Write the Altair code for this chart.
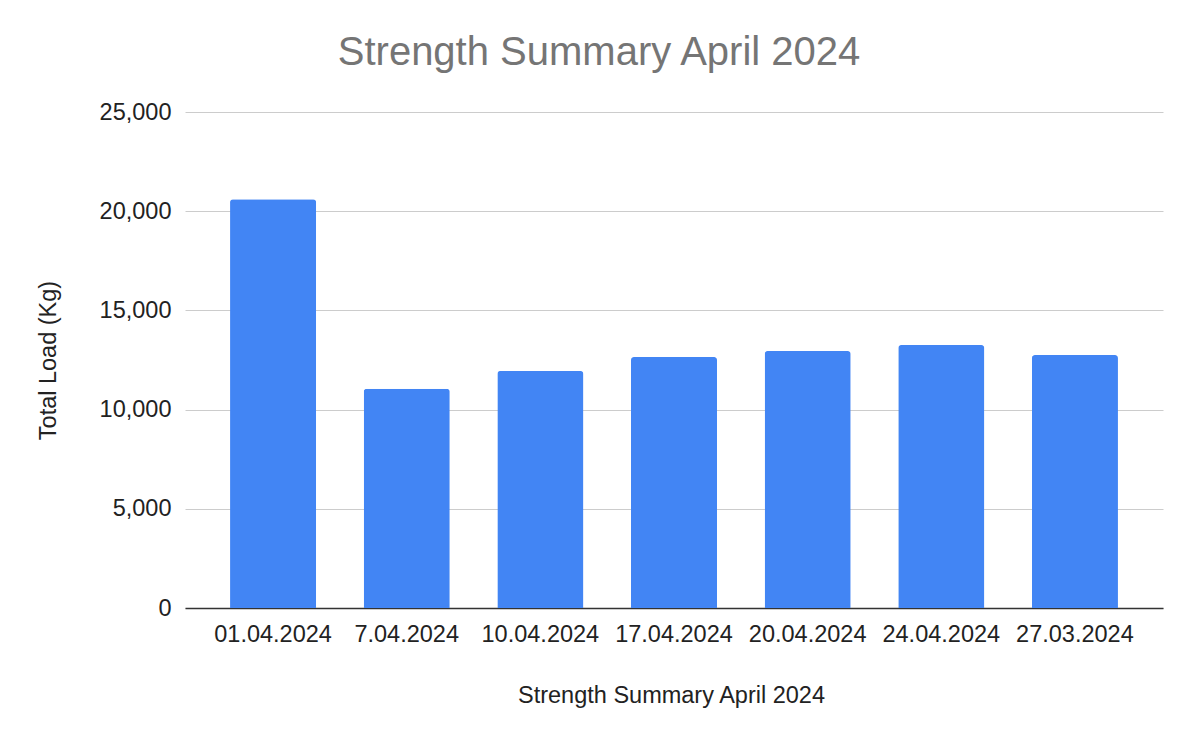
import altair as alt
import pandas as pd

dates = ["01.04.2024", "7.04.2024", "10.04.2024", "17.04.2024", "20.04.2024", "24.04.2024", "27.03.2024"]
loads = [20600, 11050, 11950, 12650, 12950, 13250, 12750]

df = pd.DataFrame({"date": dates, "load": loads})

FONT = "Liberation Sans"

chart = (
    alt.Chart(df)
    .mark_bar(color="#4285F4", cornerRadiusTopLeft=3, cornerRadiusTopRight=3)
    .encode(
        x=alt.X(
            "date:N",
            sort=dates,
            scale=alt.Scale(paddingInner=0.356, paddingOuter=0.337),
            axis=alt.Axis(
                title="Strength Summary April 2024",
                labelAngle=0,
                labelFontSize=23.5,
                labelFont=FONT,
                labelColor="#222222",
                labelPadding=14,
                ticks=False,
                grid=False,
                domain=True,
                domainColor="#333333",
                domainWidth=1.5,
                titleFont=FONT,
                titleFontSize=23.5,
                titleFontWeight="normal",
                titleColor="#222222",
                titleX=486,
                titleY=94,
                titleBaseline="alphabetic",
            ),
        ),
        y=alt.Y(
            "load:Q",
            scale=alt.Scale(domain=[0, 25000]),
            axis=alt.Axis(
                title="Total Load (Kg)",
                values=[0, 5000, 10000, 15000, 20000, 25000],
                format=",.0f",
                labelFontSize=23.5,
                labelFont=FONT,
                labelColor="#222222",
                labelPadding=14,
                ticks=False,
                domain=False,
                grid=True,
                gridColor="#cccccc",
                gridWidth=1,
                titleFont=FONT,
                titleFontSize=23.5,
                titleFontWeight="normal",
                titleColor="#222222",
                titleX=-137,
                titleY=248,
                titleBaseline="middle",
                titleAngle=-90,
            ),
        ),
    )
    .properties(
        width=978,
        height=496,
        view=alt.ViewBackground(stroke=None, strokeWidth=0),
        autosize=alt.AutoSizeParams(type="none"),
        padding={"left": 177, "top": 104, "right": 29, "bottom": 118},
        title=alt.TitleParams(
            "Strength Summary April 2024",
            font=FONT,
            fontSize=40,
            fontWeight="normal",
            color="#757575",
            anchor="middle",
            frame="group",
            dx=-75,
            offset=27,
        ),
    )
    .configure_view(stroke=None, strokeWidth=0)
    .configure(background="white")
)

chart.save("out.html", embed_options={"renderer": "svg", "actions": False})
